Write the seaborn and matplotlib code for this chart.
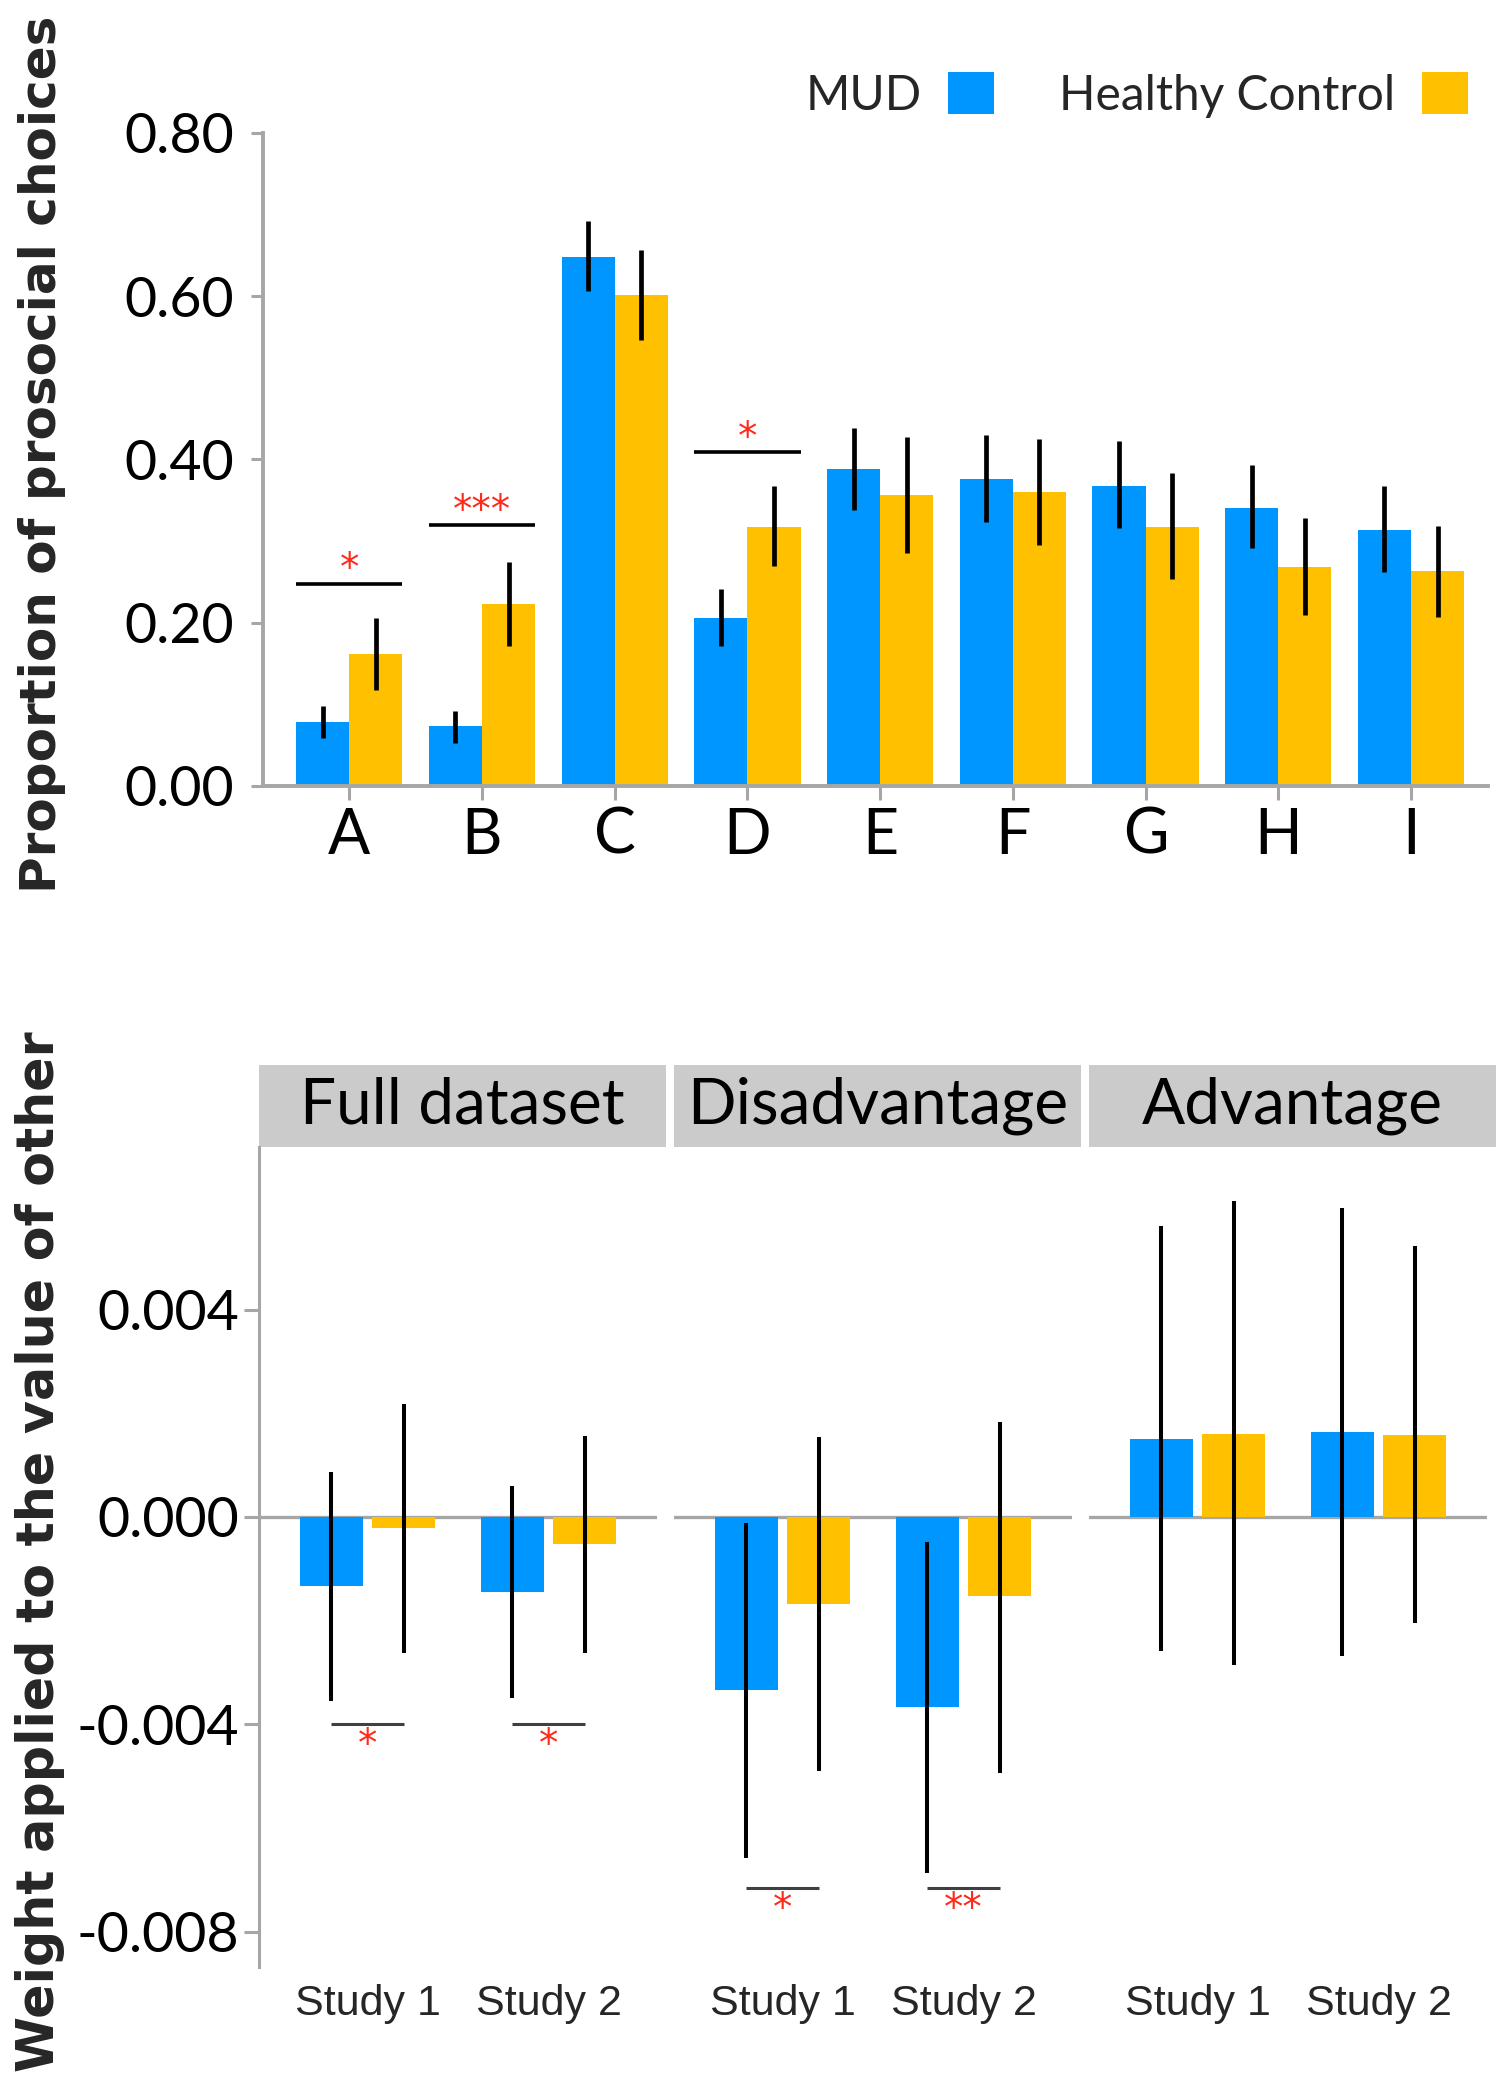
import numpy as np
import pandas as pd
import matplotlib
matplotlib.use("Agg")
import matplotlib.pyplot as plt
import seaborn as sns
from matplotlib.patches import Rectangle

# ---------------- data ----------------
categories = ["A", "B", "C", "D", "E", "F", "G", "H", "I"]
groups = ["MUD", "Healthy Control"]

mud_prop = [0.079, 0.073, 0.648, 0.206, 0.388, 0.376, 0.368, 0.341, 0.314]
mud_lo   = [0.059, 0.053, 0.606, 0.172, 0.338, 0.323, 0.316, 0.291, 0.262]
mud_hi   = [0.098, 0.092, 0.692, 0.241, 0.439, 0.430, 0.423, 0.393, 0.367]
hc_prop  = [0.162, 0.223, 0.601, 0.317, 0.357, 0.360, 0.317, 0.268, 0.263]
hc_lo    = [0.118, 0.172, 0.547, 0.270, 0.286, 0.295, 0.253, 0.210, 0.207]
hc_hi    = [0.206, 0.274, 0.657, 0.367, 0.428, 0.425, 0.383, 0.328, 0.319]

sig_top_cats = ["A", "B", "D"]
sig_top_y = [0.248, 0.320, 0.409]
sig_top_lab = ["*", "***", "*"]

facets = ["Full dataset", "Disadvantage", "Advantage"]
studies = ["Study 1", "Study 2"]
w_mud = {"Full dataset": [-0.00133, -0.00144],
         "Disadvantage": [-0.00334, -0.00366],
         "Advantage": [0.00151, 0.00163]}
w_mud_lo = {"Full dataset": [-0.00354, -0.00349],
            "Disadvantage": [-0.00657, -0.00686],
            "Advantage": [-0.00258, -0.00268]}
w_mud_hi = {"Full dataset": [0.00087, 0.00059],
            "Disadvantage": [-0.00011, -0.00048],
            "Advantage": [0.00562, 0.00596]}
w_hc = {"Full dataset": [-0.00022, -0.00053],
        "Disadvantage": [-0.00167, -0.00153],
        "Advantage": [0.00161, 0.00159]}
w_hc_lo = {"Full dataset": [-0.00263, -0.00263],
           "Disadvantage": [-0.00490, -0.00494],
           "Advantage": [-0.00285, -0.00205]}
w_hc_hi = {"Full dataset": [0.00218, 0.00156],
           "Disadvantage": [0.00154, 0.00184],
           "Advantage": [0.00609, 0.00522]}
sig_bot = {"Full dataset": ([-0.00399, -0.00399], ["*", "*"]),
           "Disadvantage": ([-0.00716, -0.00716], ["*", "**"]),
           "Advantage": ([], [])}

top_yticks = [0.0, 0.2, 0.4, 0.6, 0.8]
top_yticklabels = ["0.00", "0.20", "0.40", "0.60", "0.80"]
bot_yticks = [-0.008, -0.004, 0.0, 0.004]
bot_yticklabels = ["-0.008", "-0.004", "0.000", "0.004"]

# ---------------- style ----------------
BLUE = "#0096FF"
ORANGE = "#FFC000"
GRAY = "#A6A6A6"
RED = "#FF2A1A"
palette = {"MUD": BLUE, "Healthy Control": ORANGE}

sns.set_theme(style="white")
plt.rcParams["font.family"] = ["Lato", "DejaVu Sans"]

W, H = 1500, 2088
fig = plt.figure(figsize=(W / 100, H / 100), dpi=100)

def fx(px):
    return px / W

def fy(py):
    return 1 - py / H

# ---------------- top panel ----------------
top_df = pd.DataFrame({
    "cat": categories * 2,
    "group": [groups[0]] * 9 + [groups[1]] * 9,
    "value": mud_prop + hc_prop,
})
lo_map = {groups[0]: mud_lo, groups[1]: hc_lo}
hi_map = {groups[0]: mud_hi, groups[1]: hc_hi}

ax = fig.add_axes([fx(263), fy(786), fx(1488 - 263), (786 - 133) / H])
sns.barplot(data=top_df, x="cat", y="value", hue="group", order=categories,
            hue_order=groups, palette=palette, width=0.8, saturation=1,
            errorbar=None, legend=True, linewidth=0, edgecolor="none", ax=ax)
for cont, g in zip(ax.containers, groups):
    for bar in cont:
        xc = bar.get_x() + bar.get_width() / 2
        i = int(round(xc))
        ax.vlines(xc, lo_map[g][i], hi_map[g][i], color="black", lw=3.4, zorder=3)

for c, y, lab in zip(sig_top_cats, sig_top_y, sig_top_lab):
    i = categories.index(c)
    ax.hlines(y, i - 0.4, i + 0.4, color="black", lw=2.6, zorder=3)
    ax.text(i, y + 0.004, lab, color=RED, ha="center", va="baseline",
            fontsize=28, family="DejaVu Sans")

ax.set_xlim(-0.65, 8.58)
ax.set_ylim(0, 0.8)
ax.set_yticks(top_yticks)
ax.set_yticklabels(top_yticklabels)
ax.set_xlabel("")
ax.set_ylabel("")
for s in ["top", "right"]:
    ax.spines[s].set_visible(False)
for s in ["left", "bottom"]:
    ax.spines[s].set_color(GRAY)
    ax.spines[s].set_linewidth(2.8)
ax.tick_params(axis="y", which="both", left=True, length=9, width=2.2,
               color=GRAY, labelsize=40, pad=12, labelcolor="black")
ax.tick_params(axis="x", which="both", bottom=True, length=10, width=2.2,
               color=GRAY, labelsize=45, pad=5, labelcolor="black")

handles, labels = ax.get_legend_handles_labels()
ax.legend(handles, labels, loc="center right", bbox_to_anchor=(fx(1468), fy(95)),
          bbox_transform=fig.transFigure, ncol=2, frameon=False, markerfirst=False,
          fontsize=34.5, handlelength=0.97, handleheight=0.97, handletextpad=0.55,
          columnspacing=1.35, borderpad=0, borderaxespad=0)

fig.text(fx(42), fy(454), "Proportion of prosocial choices", rotation=90,
         ha="center", va="center", fontsize=36, fontweight="bold",
         family="DejaVu Sans")

# ---------------- bottom panels ----------------
lefts = [259, 674, 1089]
ax_w = 398
axes = []
for k, (facet, L) in enumerate(zip(facets, lefts)):
    a = fig.add_axes([fx(L), fy(1967), fx(ax_w), (1967 - 1147) / H],
                     sharey=axes[0] if axes else None)
    axes.append(a)
    df = pd.DataFrame({
        "study": studies * 2,
        "group": [groups[0]] * 2 + [groups[1]] * 2,
        "value": w_mud[facet] + w_hc[facet],
    })
    lo = {groups[0]: w_mud_lo[facet], groups[1]: w_hc_lo[facet]}
    hi = {groups[0]: w_mud_hi[facet], groups[1]: w_hc_hi[facet]}
    a.axhline(0, color=GRAY, lw=2.4, zorder=0.5)
    sns.barplot(data=df, x="study", y="value", hue="group", order=studies,
                hue_order=groups, palette=palette, width=0.8, gap=0.13,
                saturation=1, errorbar=None, legend=False, linewidth=0,
                edgecolor="none", ax=a)
    for cont, g in zip(a.containers, groups):
        for bar in cont:
            xc = bar.get_x() + bar.get_width() / 2
            i = int(round(xc))
            a.vlines(xc, lo[g][i], hi[g][i], color="black", lw=2.9, zorder=3)
    ys, labs = sig_bot[facet]
    for i, (y, lab) in enumerate(zip(ys, labs)):
        a.hlines(y, i - 0.2, i + 0.2, color="#404040", lw=2.2, zorder=3)
        a.text(i, y - 0.00062, lab, color=RED, ha="center", va="baseline",
               fontsize=28, family="DejaVu Sans")

    a.set_xlim(-0.6, 1.6)
    a.set_ylim(-0.00868, 0.007136)
    a.set_xlabel("")
    a.set_ylabel("")
    for s in ["top", "right", "bottom"]:
        a.spines[s].set_visible(False)
    a.tick_params(axis="x", length=0, pad=12, labelsize=31)
    for t in a.get_xticklabels():
        t.set_family(["Liberation Sans", "DejaVu Sans"])
    if k == 0:
        a.spines["left"].set_color(GRAY)
        a.spines["left"].set_linewidth(2.2)
        a.set_yticks(bot_yticks)
        a.set_yticklabels(bot_yticklabels)
        a.tick_params(axis="y", left=True, length=11, width=2.2, color=GRAY,
                      labelsize=40, pad=3, labelcolor="black")
    else:
        a.spines["left"].set_visible(False)
        a.tick_params(axis="y", left=False, labelleft=False)

    a.add_patch(Rectangle((0, 1.0), 1.022, 0.1, transform=a.transAxes,
                          clip_on=False, facecolor="#CBCBCB", edgecolor="none"))
    a.text(1.022 / 2, 1.05, facet, transform=a.transAxes, ha="center",
           va="center", fontsize=46, color="black")

fig.text(fx(40), fy(1552), "Weight applied to the value of other", rotation=90,
         ha="center", va="center", fontsize=36.5, fontweight="bold",
         family="DejaVu Sans")

fig.savefig("out.png", dpi=100)
